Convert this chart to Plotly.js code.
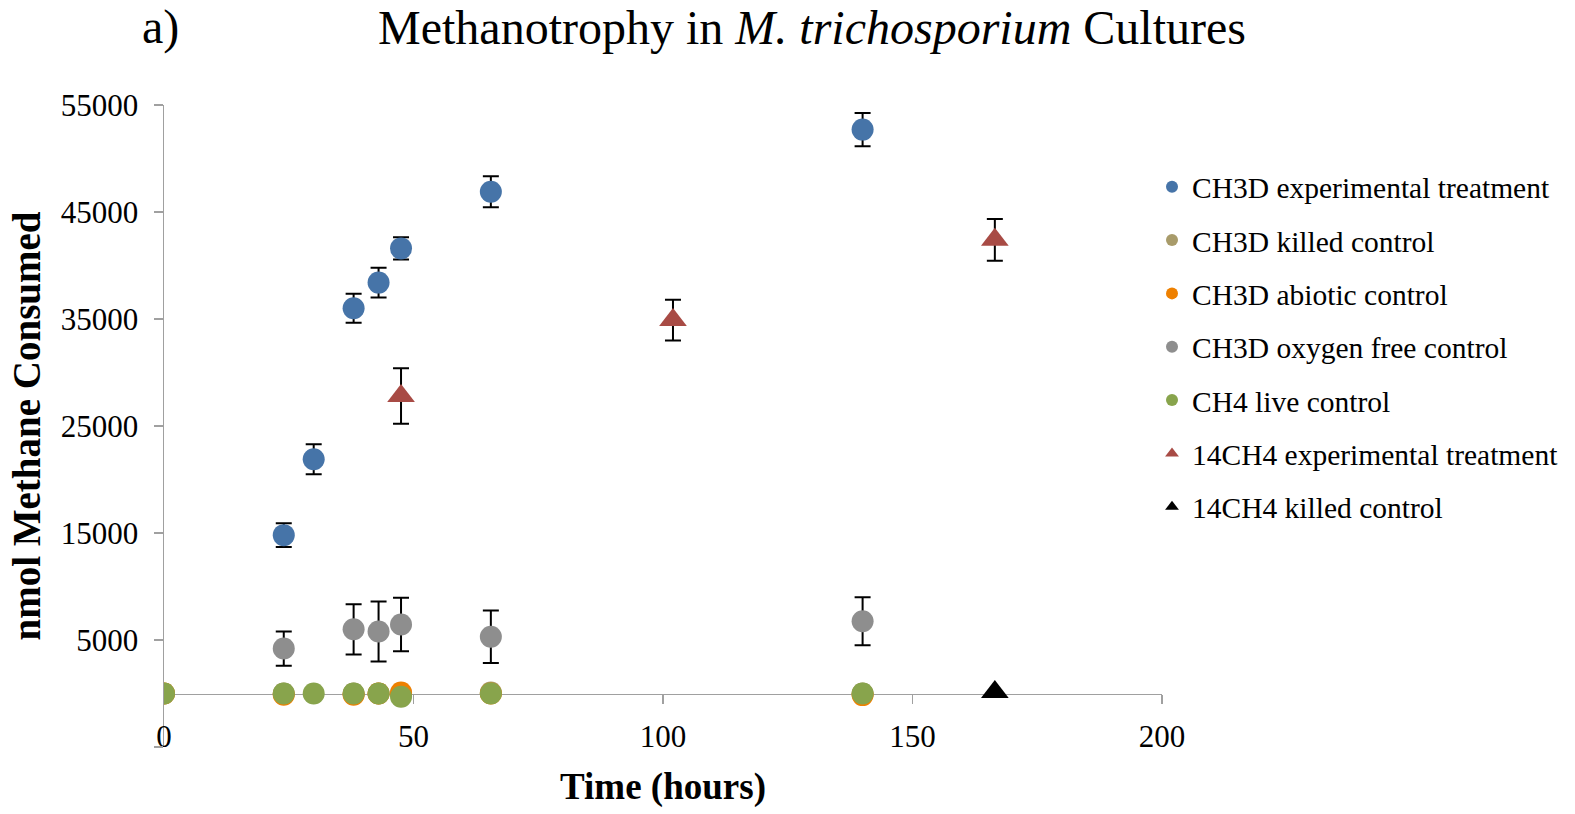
<!DOCTYPE html>
<html>
<head>
<meta charset="utf-8">
<script src="https://cdn.plot.ly/plotly-3.0.1.min.js"></script>
<style>html,body{margin:0;padding:0;background:#fff;}#chart{width:1575px;height:814px;}</style>
</head>
<body>
<div id="chart"></div>
<script>
// ---- data ----
const seriesNames = [
  'CH3D experimental treatment',
  'CH3D killed control',
  'CH3D abiotic control',
  'CH3D oxygen free control',
  'CH4 live control',
  '14CH4 experimental treatment',
  '14CH4 killed control'
];

const timeExp = [24, 30, 38, 43, 47.5, 65.5, 140];
const ch3dExp = [14800, 21900, 36000, 38400, 41600, 46900, 52700];
const ch3dExpErr = [1100, 1400, 1350, 1400, 1050, 1450, 1550];

const timeKilled = [0, 24, 38, 43, 47.5, 65.5, 140];
const ch3dKilled = [0, 0, 0, 0, 0, 100, 0];

const timeAbiotic = [0, 24, 38, 43, 47.5, 65.5, 140];
const ch3dAbiotic = [0, -120, -120, 0, 100, 0, -150];

const timeOxFree = [24, 38, 43, 47.5, 65.5, 140];
const ch3dOxFree = [4200, 6000, 5800, 6450, 5300, 6750];
const ch3dOxFreeErr = [1600, 2350, 2800, 2500, 2450, 2250];

const timeLive = [0, 24, 30, 38, 43, 47.5, 65.5, 140];
const ch4Live = [0, 0, 0, 0, 0, -300, 0, 0];

const time14Exp = [47.5, 102, 166.5];
const c14Exp = [27800, 34900, 42400];
const c14ExpErr = [2600, 1900, 1950];

const time14Killed = [166.5];
const c14Killed = [150];

const xTicks = [0, 50, 100, 150, 200];
const yTicks = [-5000, 5000, 15000, 25000, 35000, 45000, 55000];
const yTickText = ['', '5000', '15000', '25000', '35000', '45000', '55000'];

// ---- styling ----
const FONT = 'Liberation Serif, Times New Roman, serif';
const AXIS_GRAY = '#A0A0A0';
const err = (arr) => ({type: 'data', array: arr, visible: true, color: '#000', thickness: 2, width: 8});

function pts(name, x, y, color, symbol, size, e) {
  const t = {
    type: 'scatter', mode: 'markers', name: name, x: x, y: y,
    legendgroup: name,
    marker: {color: color, size: size, symbol: symbol, line: {width: 0}},
    hoverinfo: 'x+y+name'
  };
  if (e) t.error_y = err(e);
  return t;
}

const traces = [
  pts(seriesNames[0], timeExp, ch3dExp, '#4674A8', 'circle', 22, ch3dExpErr),
  pts(seriesNames[1], timeKilled, ch3dKilled, '#A89B6A', 'circle', 22),
  pts(seriesNames[2], timeAbiotic, ch3dAbiotic, '#EE8000', 'circle', 22),
  pts(seriesNames[3], timeOxFree, ch3dOxFree, '#8E8E8E', 'circle', 22, ch3dOxFreeErr),
  pts(seriesNames[4], timeLive, ch4Live, '#88A44C', 'circle', 22),
  pts(seriesNames[5], time14Exp, c14Exp, '#A84B45', 'triangle-up', 24, c14ExpErr),
  pts(seriesNames[6], time14Killed, c14Killed, '#000000', 'triangle-up', 24)
];

const layout = {
  width: 1575, height: 814,
  paper_bgcolor: '#fff', plot_bgcolor: '#fff',
  margin: {l: 164, r: 412, t: 105, b: 67, pad: 0},
  font: {family: FONT, color: '#000', size: 30},
  showlegend: true,
  title: {
    text: 'Methanotrophy in <i>M. trichosporium</i> Cultures',
    font: {family: FONT, size: 48, color: '#000'},
    xref: 'container', x: 812 / 1575, xanchor: 'center',
    yref: 'container', y: 1 - 27 / 814, yanchor: 'middle'
  },
  annotations: [{
    text: 'a)', xref: 'paper', yref: 'paper',
    x: (140 - 164) / 999, y: (747 - 27) / 642,
    xanchor: 'left', yanchor: 'middle', showarrow: false,
    font: {family: FONT, size: 48, color: '#000'}
  }],
  xaxis: {
    range: [0, 200], tickvals: xTicks, ticktext: xTicks.map(String),
    anchor: 'free', position: 5000 / 60000,
    showline: true, linecolor: AXIS_GRAY, linewidth: 1.5,
    ticks: 'outside', ticklen: 9, tickwidth: 1.5, tickcolor: AXIS_GRAY,
    ticklabelstandoff: 6,
    showgrid: false, zeroline: false, layer: 'below traces',
    tickfont: {family: FONT, size: 31, color: '#000'},
    title: {text: '<b>Time (hours)</b>', font: {family: FONT, size: 37, color: '#000'}, standoff: 20},
    fixedrange: true
  },
  yaxis: {
    range: [-5000, 55000], tickvals: yTicks, ticktext: yTickText,
    showline: true, linecolor: AXIS_GRAY, linewidth: 1.5,
    ticks: 'outside', ticklen: 9, tickwidth: 1.5, tickcolor: AXIS_GRAY,
    ticklabelstandoff: 9,
    showgrid: false, zeroline: false, layer: 'below traces',
    tickfont: {family: FONT, size: 31, color: '#000'},
    title: {text: '<b>nmol Methane Consumed</b>', font: {family: FONT, size: 39, color: '#000'}, standoff: 8},
    fixedrange: true
  },
  legend: {
    x: (1152 - 164) / 999, xanchor: 'left',
    y: (747 - 161) / 642, yanchor: 'top',
    font: {family: FONT, size: 29.5, color: '#000'},
    itemsizing: 'constant',
    traceorder: 'grouped', tracegroupgap: 12,
    bgcolor: 'rgba(0,0,0,0)', borderwidth: 0
  }
};

Plotly.newPlot('chart', traces, layout, {displayModeBar: false, staticPlot: true});
</script>
</body>
</html>
